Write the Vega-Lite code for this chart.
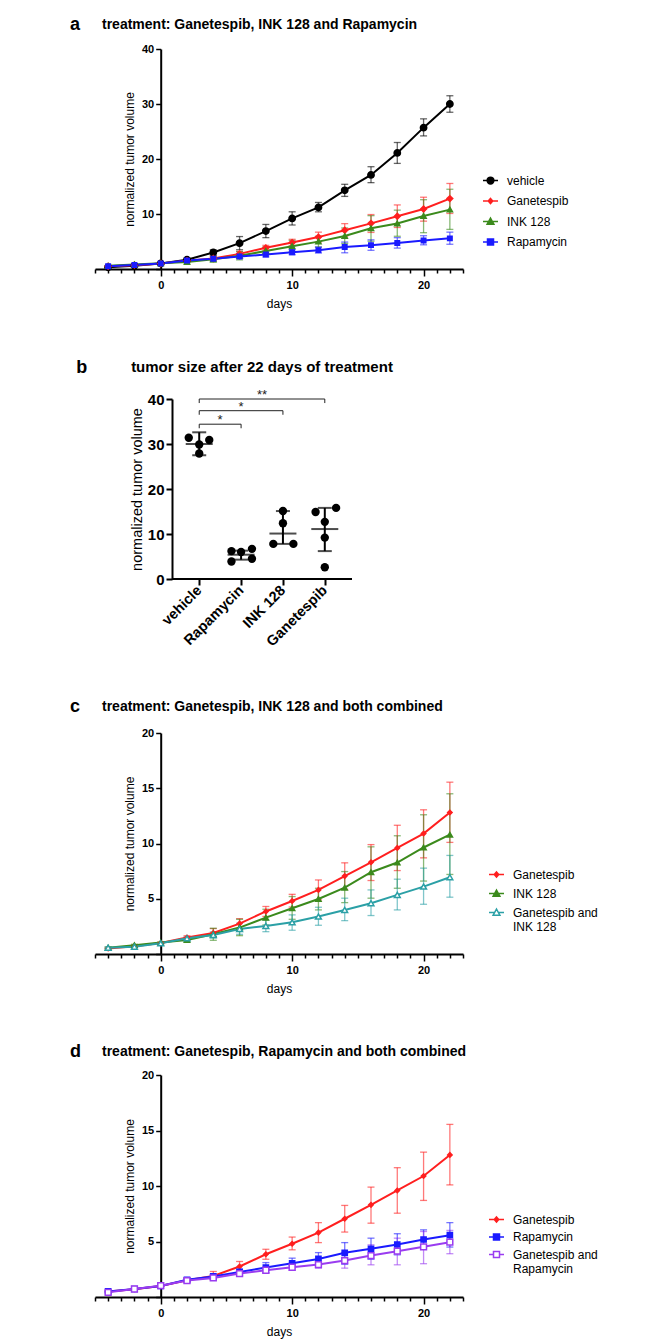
{
"$schema": "https://vega.github.io/schema/vega-lite/v6.json",
"background": "white",
"padding": {"left": 70, "top": 15, "right": 5, "bottom": 5},
"spacing": 49,
"config": {
  "font": "Liberation Sans",
  "view": {"stroke": null},
  "axis": {"grid": false, "domainColor": "#000", "tickColor": "#000", "labelColor": "#000", "titleColor": "#000", "domainWidth": 2, "tickWidth": 1.5, "labelOverlap": false, "labelFlush": false, "titleFontWeight": "normal", "labelFontWeight": "bold"},
  "title": {"color": "#000", "fontWeight": "bold", "frame": "group"},
  "legend": {"labelColor": "#000"}
},
"resolve": {"scale": {"color": "independent", "fill": "independent", "stroke": "independent", "shape": "independent", "size": "independent"}},
"datasets": {
  "growth": [
    {"series":"vehicle","day":-4,"mean":0.3,"lo":0.25,"hi":0.35},
    {"series":"vehicle","day":-2,"mean":0.6,"lo":0.5,"hi":0.7},
    {"series":"vehicle","day":0,"mean":1.0,"lo":0.95,"hi":1.05},
    {"series":"vehicle","day":2,"mean":1.7,"lo":1.4,"hi":2.0},
    {"series":"vehicle","day":4,"mean":3.0,"lo":2.5,"hi":3.5},
    {"series":"vehicle","day":6,"mean":4.7,"lo":3.5,"hi":5.9},
    {"series":"vehicle","day":8,"mean":6.9,"lo":5.7,"hi":8.1},
    {"series":"vehicle","day":10,"mean":9.2,"lo":8.0,"hi":10.4},
    {"series":"vehicle","day":12,"mean":11.2,"lo":10.4,"hi":12.1},
    {"series":"vehicle","day":14,"mean":14.3,"lo":13.2,"hi":15.4},
    {"series":"vehicle","day":16,"mean":17.1,"lo":15.7,"hi":18.6},
    {"series":"vehicle","day":18,"mean":21.1,"lo":19.2,"hi":23.0},
    {"series":"vehicle","day":20,"mean":25.7,"lo":24.2,"hi":27.3},
    {"series":"vehicle","day":22,"mean":30.0,"lo":28.5,"hi":31.5},
    {"series":"Ganetespib","day":-4,"mean":0.5,"lo":0.45,"hi":0.55},
    {"series":"Ganetespib","day":-2,"mean":0.7,"lo":0.62,"hi":0.78},
    {"series":"Ganetespib","day":0,"mean":1.0,"lo":0.95,"hi":1.05},
    {"series":"Ganetespib","day":2,"mean":1.5,"lo":1.35,"hi":1.65},
    {"series":"Ganetespib","day":4,"mean":1.9,"lo":1.55,"hi":2.3},
    {"series":"Ganetespib","day":6,"mean":2.75,"lo":2.3,"hi":3.2},
    {"series":"Ganetespib","day":8,"mean":3.85,"lo":3.4,"hi":4.3},
    {"series":"Ganetespib","day":10,"mean":4.8,"lo":4.25,"hi":5.4},
    {"series":"Ganetespib","day":12,"mean":5.8,"lo":4.9,"hi":6.7},
    {"series":"Ganetespib","day":14,"mean":7.05,"lo":5.85,"hi":8.25},
    {"series":"Ganetespib","day":16,"mean":8.3,"lo":6.65,"hi":9.9},
    {"series":"Ganetespib","day":18,"mean":9.6,"lo":7.55,"hi":11.65},
    {"series":"Ganetespib","day":20,"mean":10.9,"lo":8.7,"hi":13.05},
    {"series":"Ganetespib","day":22,"mean":12.8,"lo":10.1,"hi":15.55},
    {"series":"INK 128","day":-4,"mean":0.57,"lo":0.5,"hi":0.64},
    {"series":"INK 128","day":-2,"mean":0.8,"lo":0.72,"hi":0.88},
    {"series":"INK 128","day":0,"mean":1.03,"lo":0.98,"hi":1.08},
    {"series":"INK 128","day":2,"mean":1.27,"lo":1.1,"hi":1.45},
    {"series":"INK 128","day":4,"mean":1.78,"lo":1.24,"hi":2.33},
    {"series":"INK 128","day":6,"mean":2.39,"lo":1.66,"hi":3.14},
    {"series":"INK 128","day":8,"mean":3.29,"lo":2.63,"hi":4.05},
    {"series":"INK 128","day":10,"mean":4.14,"lo":3.14,"hi":5.2},
    {"series":"INK 128","day":12,"mean":4.98,"lo":3.99,"hi":5.95},
    {"series":"INK 128","day":14,"mean":6.0,"lo":4.65,"hi":7.46},
    {"series":"INK 128","day":16,"mean":7.4,"lo":5.05,"hi":9.7},
    {"series":"INK 128","day":18,"mean":8.28,"lo":5.95,"hi":10.7},
    {"series":"INK 128","day":20,"mean":9.64,"lo":6.6,"hi":12.6},
    {"series":"INK 128","day":22,"mean":10.8,"lo":7.2,"hi":14.5},
    {"series":"Rapamycin","day":-4,"mean":0.5,"lo":0.44,"hi":0.56},
    {"series":"Rapamycin","day":-2,"mean":0.72,"lo":0.65,"hi":0.8},
    {"series":"Rapamycin","day":0,"mean":1.0,"lo":0.95,"hi":1.05},
    {"series":"Rapamycin","day":2,"mean":1.55,"lo":1.4,"hi":1.7},
    {"series":"Rapamycin","day":4,"mean":1.85,"lo":1.6,"hi":2.05},
    {"series":"Rapamycin","day":6,"mean":2.26,"lo":2.0,"hi":2.5},
    {"series":"Rapamycin","day":8,"mean":2.65,"lo":2.2,"hi":3.1},
    {"series":"Rapamycin","day":10,"mean":3.04,"lo":2.6,"hi":3.5},
    {"series":"Rapamycin","day":12,"mean":3.43,"lo":2.9,"hi":4.0},
    {"series":"Rapamycin","day":14,"mean":3.98,"lo":2.95,"hi":4.9},
    {"series":"Rapamycin","day":16,"mean":4.34,"lo":3.4,"hi":5.3},
    {"series":"Rapamycin","day":18,"mean":4.73,"lo":3.8,"hi":5.7},
    {"series":"Rapamycin","day":20,"mean":5.18,"lo":4.4,"hi":6.05},
    {"series":"Rapamycin","day":22,"mean":5.57,"lo":4.5,"hi":6.7},
    {"series":"Ganetespib and INK 128","day":-4,"mean":0.57,"lo":0.5,"hi":0.64},
    {"series":"Ganetespib and INK 128","day":-2,"mean":0.66,"lo":0.6,"hi":0.72},
    {"series":"Ganetespib and INK 128","day":0,"mean":0.97,"lo":0.92,"hi":1.02},
    {"series":"Ganetespib and INK 128","day":2,"mean":1.42,"lo":1.3,"hi":1.55},
    {"series":"Ganetespib and INK 128","day":4,"mean":1.72,"lo":1.45,"hi":2.0},
    {"series":"Ganetespib and INK 128","day":6,"mean":2.27,"lo":1.78,"hi":2.78},
    {"series":"Ganetespib and INK 128","day":8,"mean":2.54,"lo":2.02,"hi":3.08},
    {"series":"Ganetespib and INK 128","day":10,"mean":2.87,"lo":2.15,"hi":3.54},
    {"series":"Ganetespib and INK 128","day":12,"mean":3.39,"lo":2.6,"hi":4.23},
    {"series":"Ganetespib and INK 128","day":14,"mean":3.99,"lo":3.02,"hi":5.05},
    {"series":"Ganetespib and INK 128","day":16,"mean":4.6,"lo":3.48,"hi":5.8},
    {"series":"Ganetespib and INK 128","day":18,"mean":5.35,"lo":3.99,"hi":6.77},
    {"series":"Ganetespib and INK 128","day":20,"mean":6.1,"lo":4.5,"hi":7.77},
    {"series":"Ganetespib and INK 128","day":22,"mean":6.95,"lo":5.14,"hi":8.92},
    {"series":"Ganetespib and Rapamycin","day":-4,"mean":0.42,"lo":0.36,"hi":0.48},
    {"series":"Ganetespib and Rapamycin","day":-2,"mean":0.72,"lo":0.65,"hi":0.79},
    {"series":"Ganetespib and Rapamycin","day":0,"mean":1.02,"lo":0.97,"hi":1.07},
    {"series":"Ganetespib and Rapamycin","day":2,"mean":1.48,"lo":1.38,"hi":1.58},
    {"series":"Ganetespib and Rapamycin","day":4,"mean":1.72,"lo":1.58,"hi":1.88},
    {"series":"Ganetespib and Rapamycin","day":6,"mean":2.11,"lo":1.9,"hi":2.3},
    {"series":"Ganetespib and Rapamycin","day":8,"mean":2.41,"lo":2.17,"hi":2.65},
    {"series":"Ganetespib and Rapamycin","day":10,"mean":2.68,"lo":2.4,"hi":3.0},
    {"series":"Ganetespib and Rapamycin","day":12,"mean":2.92,"lo":2.6,"hi":3.3},
    {"series":"Ganetespib and Rapamycin","day":14,"mean":3.28,"lo":2.6,"hi":4.0},
    {"series":"Ganetespib and Rapamycin","day":16,"mean":3.73,"lo":2.9,"hi":4.7},
    {"series":"Ganetespib and Rapamycin","day":18,"mean":4.13,"lo":2.9,"hi":5.3},
    {"series":"Ganetespib and Rapamycin","day":20,"mean":4.52,"lo":3.0,"hi":5.9},
    {"series":"Ganetespib and Rapamycin","day":22,"mean":4.94,"lo":3.9,"hi":6.0}
  ],
  "dots": [
    {"group":"vehicle","x":-0.25,"value":31.4},
    {"group":"vehicle","x":0,"value":29.9},
    {"group":"vehicle","x":0.24,"value":30.9},
    {"group":"vehicle","x":0,"value":27.9},
    {"group":"Rapamycin","x":0.77,"value":6.2},
    {"group":"Rapamycin","x":0.77,"value":3.9},
    {"group":"Rapamycin","x":1,"value":6.0},
    {"group":"Rapamycin","x":1.26,"value":6.7},
    {"group":"Rapamycin","x":1.26,"value":4.5},
    {"group":"INK 128","x":2,"value":15.1},
    {"group":"INK 128","x":2,"value":12.4},
    {"group":"INK 128","x":1.77,"value":7.8},
    {"group":"INK 128","x":2.25,"value":7.8},
    {"group":"Ganetespib","x":2.78,"value":14.9},
    {"group":"Ganetespib","x":3.27,"value":15.8},
    {"group":"Ganetespib","x":3,"value":12.7},
    {"group":"Ganetespib","x":3,"value":9.2},
    {"group":"Ganetespib","x":3,"value":2.6}
  ],
  "summary": [
    {"group":"vehicle","pos":0,"mean":30.0,"lo":27.5,"hi":32.6},
    {"group":"Rapamycin","pos":1,"mean":5.4,"lo":4.3,"hi":6.3},
    {"group":"INK 128","pos":2,"mean":10.1,"lo":7.8,"hi":15.1},
    {"group":"Ganetespib","pos":3,"mean":11.1,"lo":6.2,"hi":15.8}
  ],
  "brackets": [
    {"from":0,"to":1,"mid":0.5,"y":34.4,"ybot":33.5,"label":"*"},
    {"from":0,"to":2,"mid":1,"y":37.4,"ybot":36.5,"label":"*"},
    {"from":0,"to":3,"mid":1.5,"y":40.0,"ybot":39.1,"label":"**"}
  ]
},
"vconcat": [
  {
    "width": 368, "height": 220,
    "title": {"text": "treatment: Ganetespib, INK 128 and Rapamycin", "anchor": "start", "dx": 7, "fontSize": 14, "offset": -16},
    "encoding": {
      "x": {"type": "quantitative", "scale": {"domain": [-5, 23], "nice": false, "zero": false},
        "axis": {"values": [-5,-4,-3,-2,-1,0,1,2,3,4,5,6,7,8,9,10,11,12,13,14,15,16,17,18,19,20,21,22,23], "labelExpr": "datum.value % 10 === 0 ? datum.label : ''", "tickSize": {"condition": {"test": "datum.value % 10 === 0", "value": 7}, "value": 4}, "labelFontSize": 11, "labelPadding": 3, "title": "days", "titleFontSize": 12, "titlePadding": 8}},
      "y": {"type": "quantitative", "scale": {"domain": [0, 40], "nice": false}, "axis": {"values": [0,10,20,30,40], "labelExpr": "datum.value === 0 ? '' : datum.label", "offset": -65.7, "tickSize": 5, "labelFontSize": 11, "title": "normalized tumor volume", "titleFontSize": 12, "titlePadding": 5}}
    },
    "layer": [
      {"data": {"name": "growth"}, "transform": [{"filter": {"field": "series", "oneOf": ["vehicle","Ganetespib","INK 128","Rapamycin"]}}],
       "mark": {"type": "errorbar", "ticks": {"size": 7}, "thickness": 1.3, "opacity": 0.6},
       "encoding": {"x": {"field": "day", "type": "quantitative"}, "y": {"field": "lo", "type": "quantitative"}, "y2": {"field": "hi"},
         "color": {"field": "series", "type": "nominal", "scale": {"domain": ["vehicle","Ganetespib","INK 128","Rapamycin"], "range": ["#000000","#ff1f1f","#3b8a1c","#1a1aff"]}, "legend": null}}},
      {"data": {"name": "growth"}, "transform": [{"filter": {"field": "series", "oneOf": ["vehicle","Ganetespib","INK 128","Rapamycin"]}}],
       "mark": {"type": "line", "strokeWidth": 2},
       "encoding": {"x": {"field": "day", "type": "quantitative"}, "y": {"field": "mean", "type": "quantitative"}, "color": {"field": "series", "type": "nominal", "legend": null}}},
      {"data": {"name": "growth"}, "transform": [{"filter": {"field": "series", "oneOf": ["vehicle","Ganetespib","INK 128","Rapamycin"]}}],
       "mark": {"type": "point", "opacity": 1, "strokeWidth": 1.5},
       "encoding": {"x": {"field": "day", "type": "quantitative"}, "y": {"field": "mean", "type": "quantitative"},
         "shape": {"field": "series", "type": "nominal", "scale": {"domain": ["vehicle","Ganetespib","INK 128","Rapamycin"], "range": ["circle","diamond","triangle-up","square"]}, "legend": null},
         "fill": {"field": "series", "type": "nominal", "scale": {"domain": ["vehicle","Ganetespib","INK 128","Rapamycin"], "range": ["#000000","#ff1f1f","#3b8a1c","#1a1aff"]}, "legend": null},
         "stroke": {"field": "series", "type": "nominal", "scale": {"domain": ["vehicle","Ganetespib","INK 128","Rapamycin"], "range": ["#000000","#ff1f1f","#3b8a1c","#1a1aff"]}, "legend": null},
         "size": {"field": "series", "type": "nominal", "scale": {"domain": ["vehicle","Ganetespib","INK 128","Rapamycin"], "range": [40, 20, 34, 34]}, "legend": null}}},
      {"data": {"name": "growth"}, "transform": [{"filter": "false"}],
       "mark": {"type": "point", "opacity": 1},
       "encoding": {"x": {"field": "day", "type": "quantitative"}, "y": {"field": "mean", "type": "quantitative"},
         "shape": {"field": "series", "type": "nominal", "scale": {"domain": ["vehicle","Ganetespib","INK 128","Rapamycin"], "range": ["M-1,0H1M0.45,0A0.45,0.45,0,1,1,-0.45,0A0.45,0.45,0,1,1,0.45,0Z", "M-1,0H1M0,-0.35L0.3,0L0,0.35L-0.3,0Z", "M-1,0H1M0,-0.45L0.45,0.35L-0.45,0.35Z", "M-1,0H1M-0.4,-0.4H0.4V0.4H-0.4Z"]},
           "legend": {"title": null, "orient": "none", "legendX": 387, "legendY": 123, "labelFontSize": 12, "labelFontWeight": "normal", "symbolSize": 225, "symbolStrokeWidth": 1.5, "symbolOpacity": 1, "rowPadding": 5.5, "labelOffset": 8}},
         "fill": {"field": "series", "type": "nominal", "scale": {"domain": ["vehicle","Ganetespib","INK 128","Rapamycin"], "range": ["#000000","#ff1f1f","#3b8a1c","#1a1aff"]}},
         "stroke": {"field": "series", "type": "nominal", "scale": {"domain": ["vehicle","Ganetespib","INK 128","Rapamycin"], "range": ["#000000","#ff1f1f","#3b8a1c","#1a1aff"]}}}},
      {"data": {"values": [{"t": "a"}]},
       "mark": {"type": "text", "fontSize": 18, "fontWeight": "bold", "align": "left", "baseline": "middle", "color": "#000"},
       "encoding": {"x": {"datum": -6.9}, "y": {"datum": 44.4}, "text": {"field": "t"}}}
    ],
    "resolve": {"scale": {"shape": "independent", "fill": "independent", "stroke": "independent"}}
  },
  {
    "width": 257, "height": 180,
    "title": {"text": "tumor size after 22 days of treatment", "anchor": "middle", "dx": 38.5, "fontSize": 15, "offset": -16},
    "encoding": {
      "x": {"type": "quantitative", "scale": {"domain": [-2.49, 3.65], "nice": false, "zero": false},
        "axis": {"values": [0,1,2,3], "domain": false, "labelExpr": "['vehicle','Rapamycin','INK 128','Ganetespib'][datum.value]", "labelAngle": -45, "labelAlign": "right", "labelBaseline": "middle", "labelFontSize": 14.5, "tickSize": 6, "tickWidth": 2, "labelPadding": 3, "title": null}},
      "y": {"type": "quantitative", "scale": {"domain": [0, 40], "nice": false}, "axis": {"values": [0,10,20,30,40], "offset": -77, "tickSize": 6, "tickWidth": 2, "labelFontSize": 15, "labelPadding": 2, "title": "normalized tumor volume", "titleFontSize": 14.5, "titlePadding": 3}}
    },
    "layer": [
      {"data": {"values": [{"from": -0.65, "to": 3.65, "base": 0}]}, "mark": {"type": "rule", "strokeWidth": 2, "color": "#000"},
       "encoding": {"x": {"field": "from"}, "x2": {"field": "to"}, "y": {"field": "base"}}},
      {"data": {"name": "brackets"}, "mark": {"type": "rule", "strokeWidth": 1, "color": "#222"},
       "encoding": {"x": {"field": "from"}, "x2": {"field": "to"}, "y": {"field": "y"}}},
      {"data": {"name": "brackets"}, "mark": {"type": "rule", "strokeWidth": 1, "color": "#222"},
       "encoding": {"x": {"field": "from"}, "y": {"field": "y"}, "y2": {"field": "ybot"}}},
      {"data": {"name": "brackets"}, "mark": {"type": "rule", "strokeWidth": 1, "color": "#222"},
       "encoding": {"x": {"field": "to"}, "y": {"field": "y"}, "y2": {"field": "ybot"}}},
      {"data": {"name": "brackets"}, "mark": {"type": "text", "fontSize": 13, "baseline": "bottom", "dy": 3, "color": "#222"},
       "encoding": {"x": {"field": "mid"}, "y": {"field": "y"}, "text": {"field": "label"}}},
      {"data": {"name": "summary"}, "mark": {"type": "errorbar", "ticks": {"size": 14}, "thickness": 2, "color": "#000"},
       "encoding": {"x": {"field": "pos"}, "y": {"field": "lo"}, "y2": {"field": "hi"}}},
      {"data": {"name": "summary"}, "mark": {"type": "tick", "orient": "horizontal", "size": 27, "thickness": 2, "color": "#000"},
       "encoding": {"x": {"field": "pos"}, "y": {"field": "mean"}}},
      {"data": {"name": "dots"}, "mark": {"type": "circle", "size": 70, "color": "#000", "opacity": 1},
       "encoding": {"x": {"field": "x"}, "y": {"field": "value"}}},
      {"data": {"values": [{"t": "b"}]},
       "mark": {"type": "text", "fontSize": 18, "fontWeight": "bold", "align": "left", "baseline": "middle", "color": "#000"},
       "encoding": {"x": {"datum": -2.94}, "y": {"datum": 46.9}, "text": {"field": "t"}}}
    ]
  },
  {
    "width": 368, "height": 221,
    "title": {"text": "treatment: Ganetespib, INK 128 and both combined", "anchor": "start", "dx": 7, "fontSize": 14, "offset": -16},
    "encoding": {
      "x": {"type": "quantitative", "scale": {"domain": [-5, 23], "nice": false, "zero": false},
        "axis": {"values": [-5,-4,-3,-2,-1,0,1,2,3,4,5,6,7,8,9,10,11,12,13,14,15,16,17,18,19,20,21,22,23], "labelExpr": "datum.value % 10 === 0 ? datum.label : ''", "tickSize": {"condition": {"test": "datum.value % 10 === 0", "value": 7}, "value": 4}, "labelFontSize": 11, "labelPadding": 3, "title": "days", "titleFontSize": 12, "titlePadding": 8}},
      "y": {"type": "quantitative", "scale": {"domain": [0, 20], "nice": false}, "axis": {"values": [0,5,10,15,20], "labelExpr": "datum.value === 0 ? '' : datum.label", "offset": -65.7, "tickSize": 5, "labelFontSize": 11, "title": "normalized tumor volume", "titleFontSize": 12, "titlePadding": 5}}
    },
    "layer": [
      {"data": {"name": "growth"}, "transform": [{"filter": {"field": "series", "oneOf": ["Ganetespib","INK 128","Ganetespib and INK 128"]}}],
       "mark": {"type": "errorbar", "ticks": {"size": 7}, "thickness": 1.3, "opacity": 0.6},
       "encoding": {"x": {"field": "day", "type": "quantitative"}, "y": {"field": "lo", "type": "quantitative"}, "y2": {"field": "hi"},
         "color": {"field": "series", "type": "nominal", "scale": {"domain": ["Ganetespib","INK 128","Ganetespib and INK 128"], "range": ["#ff1f1f","#3b8a1c","#2ba0a6"]}, "legend": null}}},
      {"data": {"name": "growth"}, "transform": [{"filter": {"field": "series", "oneOf": ["Ganetespib","INK 128","Ganetespib and INK 128"]}}],
       "mark": {"type": "line", "strokeWidth": 2},
       "encoding": {"x": {"field": "day", "type": "quantitative"}, "y": {"field": "mean", "type": "quantitative"}, "color": {"field": "series", "type": "nominal", "legend": null}}},
      {"data": {"name": "growth"}, "transform": [{"filter": {"field": "series", "oneOf": ["Ganetespib","INK 128","Ganetespib and INK 128"]}}],
       "mark": {"type": "point", "opacity": 1, "strokeWidth": 1.5},
       "encoding": {"x": {"field": "day", "type": "quantitative"}, "y": {"field": "mean", "type": "quantitative"},
         "shape": {"field": "series", "type": "nominal", "scale": {"domain": ["Ganetespib","INK 128","Ganetespib and INK 128"], "range": ["diamond","triangle-up","triangle-up"]}, "legend": null},
         "fill": {"field": "series", "type": "nominal", "scale": {"domain": ["Ganetespib","INK 128","Ganetespib and INK 128"], "range": ["#ff1f1f","#3b8a1c","#ffffff"]}, "legend": null},
         "stroke": {"field": "series", "type": "nominal", "scale": {"domain": ["Ganetespib","INK 128","Ganetespib and INK 128"], "range": ["#ff1f1f","#3b8a1c","#2ba0a6"]}, "legend": null},
         "size": {"field": "series", "type": "nominal", "scale": {"domain": ["Ganetespib","INK 128","Ganetespib and INK 128"], "range": [20, 34, 40]}, "legend": null}}},
      {"data": {"name": "growth"}, "transform": [{"filter": "false"}],
       "mark": {"type": "point", "opacity": 1},
       "encoding": {"x": {"field": "day", "type": "quantitative"}, "y": {"field": "mean", "type": "quantitative"},
         "shape": {"field": "series", "type": "nominal", "scale": {"domain": ["Ganetespib","INK 128","Ganetespib and INK 128"], "range": ["M-1,0H1M0,-0.35L0.3,0L0,0.35L-0.3,0Z", "M-1,0H1M0,-0.45L0.45,0.35L-0.45,0.35Z", "M-1,0H-0.25M0.25,0H1M0,-0.45L0.45,0.35L-0.45,0.35Z"]},
           "legend": {"title": null, "orient": "none", "legendX": 393, "legendY": 133, "labelFontSize": 12, "labelFontWeight": "normal", "symbolSize": 225, "symbolStrokeWidth": 1.5, "symbolOpacity": 1, "rowPadding": 4, "labelOffset": 8, "labelExpr": "datum.label === 'Ganetespib and INK 128' ? ['Ganetespib and', 'INK 128'] : datum.label"}},
         "fill": {"field": "series", "type": "nominal", "scale": {"domain": ["Ganetespib","INK 128","Ganetespib and INK 128"], "range": ["#ff1f1f","#3b8a1c","#ffffff"]}},
         "stroke": {"field": "series", "type": "nominal", "scale": {"domain": ["Ganetespib","INK 128","Ganetespib and INK 128"], "range": ["#ff1f1f","#3b8a1c","#2ba0a6"]}}}},
      {"data": {"values": [{"t": "c"}]},
       "mark": {"type": "text", "fontSize": 18, "fontWeight": "bold", "align": "left", "baseline": "middle", "color": "#000"},
       "encoding": {"x": {"datum": -6.9}, "y": {"datum": 22.35}, "text": {"field": "t"}}}
    ],
    "resolve": {"scale": {"shape": "independent", "fill": "independent", "stroke": "independent"}}
  },
  {
    "width": 368, "height": 222,
    "title": {"text": "treatment: Ganetespib, Rapamycin and both combined", "anchor": "start", "dx": 7, "fontSize": 14, "offset": -16},
    "encoding": {
      "x": {"type": "quantitative", "scale": {"domain": [-5, 23], "nice": false, "zero": false},
        "axis": {"values": [-5,-4,-3,-2,-1,0,1,2,3,4,5,6,7,8,9,10,11,12,13,14,15,16,17,18,19,20,21,22,23], "labelExpr": "datum.value % 10 === 0 ? datum.label : ''", "tickSize": {"condition": {"test": "datum.value % 10 === 0", "value": 7}, "value": 4}, "labelFontSize": 11, "labelPadding": 3, "title": "days", "titleFontSize": 12, "titlePadding": 8}},
      "y": {"type": "quantitative", "scale": {"domain": [0, 20], "nice": false}, "axis": {"values": [0,5,10,15,20], "labelExpr": "datum.value === 0 ? '' : datum.label", "offset": -65.7, "tickSize": 5, "labelFontSize": 11, "title": "normalized tumor volume", "titleFontSize": 12, "titlePadding": 5}}
    },
    "layer": [
      {"data": {"name": "growth"}, "transform": [{"filter": {"field": "series", "oneOf": ["Ganetespib","Rapamycin","Ganetespib and Rapamycin"]}}],
       "mark": {"type": "errorbar", "ticks": {"size": 7}, "thickness": 1.3, "opacity": 0.6},
       "encoding": {"x": {"field": "day", "type": "quantitative"}, "y": {"field": "lo", "type": "quantitative"}, "y2": {"field": "hi"},
         "color": {"field": "series", "type": "nominal", "scale": {"domain": ["Ganetespib","Rapamycin","Ganetespib and Rapamycin"], "range": ["#ff1f1f","#1a1aff","#9a3cf0"]}, "legend": null}}},
      {"data": {"name": "growth"}, "transform": [{"filter": {"field": "series", "oneOf": ["Ganetespib","Rapamycin","Ganetespib and Rapamycin"]}}],
       "mark": {"type": "line", "strokeWidth": 2},
       "encoding": {"x": {"field": "day", "type": "quantitative"}, "y": {"field": "mean", "type": "quantitative"}, "color": {"field": "series", "type": "nominal", "legend": null}}},
      {"data": {"name": "growth"}, "transform": [{"filter": {"field": "series", "oneOf": ["Ganetespib","Rapamycin","Ganetespib and Rapamycin"]}}],
       "mark": {"type": "point", "opacity": 1, "strokeWidth": 1.5},
       "encoding": {"x": {"field": "day", "type": "quantitative"}, "y": {"field": "mean", "type": "quantitative"},
         "shape": {"field": "series", "type": "nominal", "scale": {"domain": ["Ganetespib","Rapamycin","Ganetespib and Rapamycin"], "range": ["diamond","square","square"]}, "legend": null},
         "fill": {"field": "series", "type": "nominal", "scale": {"domain": ["Ganetespib","Rapamycin","Ganetespib and Rapamycin"], "range": ["#ff1f1f","#1a1aff","#ffffff"]}, "legend": null},
         "stroke": {"field": "series", "type": "nominal", "scale": {"domain": ["Ganetespib","Rapamycin","Ganetespib and Rapamycin"], "range": ["#ff1f1f","#1a1aff","#9a3cf0"]}, "legend": null},
         "size": {"field": "series", "type": "nominal", "scale": {"domain": ["Ganetespib","Rapamycin","Ganetespib and Rapamycin"], "range": [20, 34, 34]}, "legend": null}}},
      {"data": {"name": "growth"}, "transform": [{"filter": "false"}],
       "mark": {"type": "point", "opacity": 1},
       "encoding": {"x": {"field": "day", "type": "quantitative"}, "y": {"field": "mean", "type": "quantitative"},
         "shape": {"field": "series", "type": "nominal", "scale": {"domain": ["Ganetespib","Rapamycin","Ganetespib and Rapamycin"], "range": ["M-1,0H1M0,-0.35L0.3,0L0,0.35L-0.3,0Z", "M-1,0H1M-0.4,-0.4H0.4V0.4H-0.4Z", "M-1,0H-0.4M0.4,0H1M-0.4,-0.4H0.4V0.4H-0.4Z"]},
           "legend": {"title": null, "orient": "none", "legendX": 393, "legendY": 136, "labelFontSize": 12, "labelFontWeight": "normal", "symbolSize": 225, "symbolStrokeWidth": 1.5, "symbolOpacity": 1, "rowPadding": 2.5, "labelOffset": 8, "labelExpr": "datum.label === 'Ganetespib and Rapamycin' ? ['Ganetespib and', 'Rapamycin'] : datum.label"}},
         "fill": {"field": "series", "type": "nominal", "scale": {"domain": ["Ganetespib","Rapamycin","Ganetespib and Rapamycin"], "range": ["#ff1f1f","#1a1aff","#ffffff"]}},
         "stroke": {"field": "series", "type": "nominal", "scale": {"domain": ["Ganetespib","Rapamycin","Ganetespib and Rapamycin"], "range": ["#ff1f1f","#1a1aff","#9a3cf0"]}}}},
      {"data": {"values": [{"t": "d"}]},
       "mark": {"type": "text", "fontSize": 18, "fontWeight": "bold", "align": "left", "baseline": "middle", "color": "#000"},
       "encoding": {"x": {"datum": -6.9}, "y": {"datum": 22.07}, "text": {"field": "t"}}}
    ],
    "resolve": {"scale": {"shape": "independent", "fill": "independent", "stroke": "independent"}}
  }
]
}
